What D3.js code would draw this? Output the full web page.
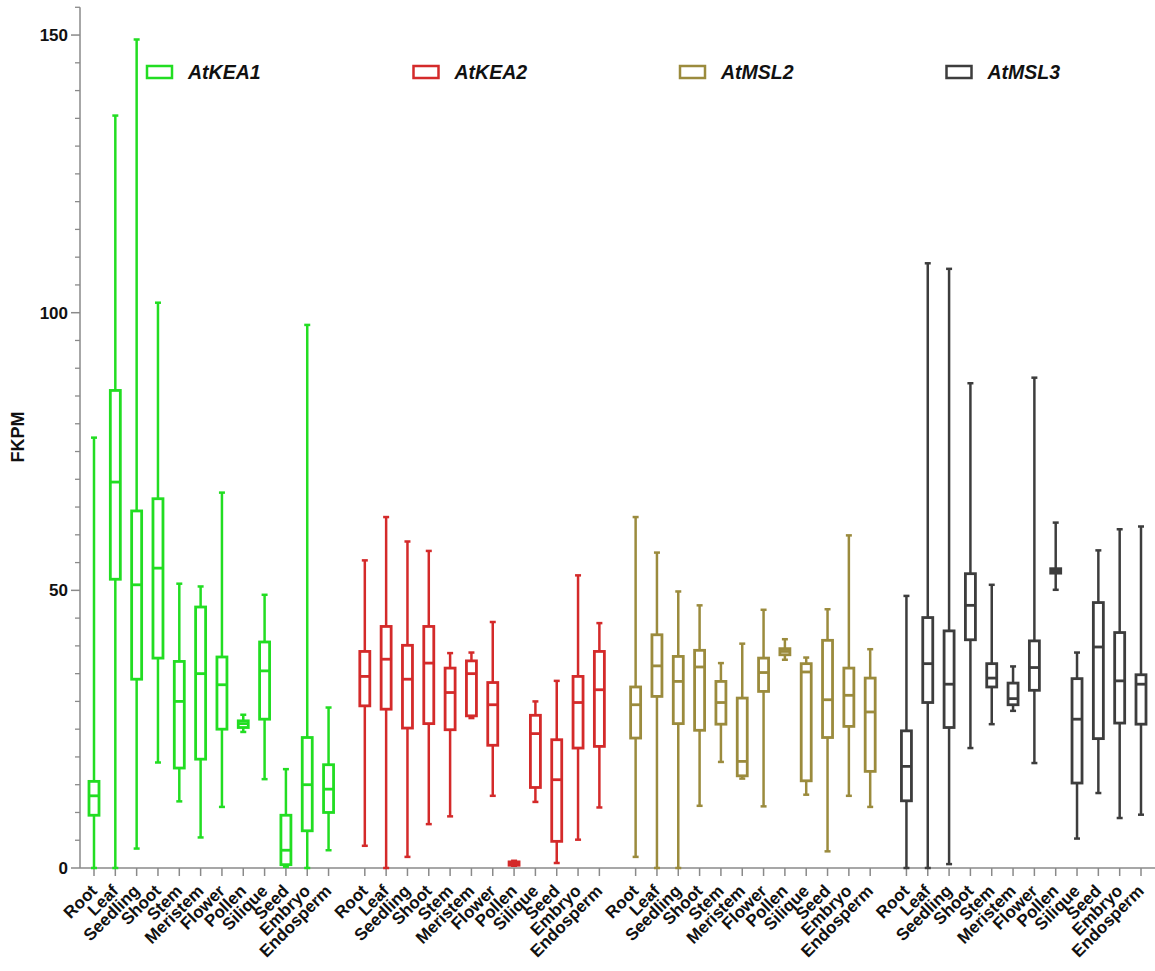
<!DOCTYPE html>
<html><head><meta charset="utf-8">
<script src="https://cdn.jsdelivr.net/npm/d3@7"></script>
<style>body{margin:0;background:#fff}svg{display:block}</style>
</head><body>
<svg id="chart" width="1155" height="971"></svg>
<script>
const tissues = ["Root","Leaf","Seedling","Shoot","Stem","Meristem","Flower","Pollen","Silique","Seed","Embryo","Endosperm"];
const genes = ["AtKEA1","AtKEA2","AtMSL2","AtMSL3"];
const colors = ["#22dd22","#d42a2a","#9b8b3d","#3d3d3d"];
const yTicks = [0,50,100,150];

// five-number summaries per gene (min, q1, median, q3, max), in tissue order
const kea1Min = [0,0,3.5,19,12,5.5,11,24.5,16,0.2,0,3.2];
const kea1Q1  = [9.5,52,34,37.8,18,19.6,25,25.3,26.8,0.6,6.7,10];
const kea1Med = [13,69.5,51,54,30,35,33,26,35.5,3.2,15,14.2];
const kea1Q3  = [15.6,86,64.3,66.5,37.2,47,38,26.5,40.7,9.5,23.5,18.6];
const kea1Max = [77.5,135.5,149.2,101.8,51.2,50.7,67.6,27.6,49.2,17.8,97.8,28.9];

const kea2Min = [4,0,2,7.9,9.3,27,13,0.4,11.9,0.9,5.1,10.9];
const kea2Q1  = [29.2,28.6,25.2,26,24.9,27.4,22.1,0.5,14.5,4.8,21.6,21.9];
const kea2Med = [34.5,37.6,34,36.9,31.6,35,29.4,0.8,24.2,15.9,29.8,32.1];
const kea2Q3  = [39,43.5,40.1,43.5,36,37.3,33.4,1.1,27.5,23.1,34.5,39];
const kea2Max = [55.4,63.2,58.8,57.1,38.7,38.8,44.3,1.3,30,33.7,52.7,44.1];

const msl2Min = [2,0,0,11.2,19.1,16.1,11.1,37.5,13.2,3,13,11];
const msl2Q1  = [23.4,30.9,26,24.8,25.9,16.6,31.8,38.4,15.7,23.5,25.5,17.4];
const msl2Med = [29.4,36.4,33.6,36.2,29.8,19.2,35.2,39,35.3,30.3,31.1,28.1];
const msl2Q3  = [32.6,42,38.1,39.2,33.6,30.6,37.8,39.5,36.8,41,36,34.2];
const msl2Max = [63.2,56.8,49.8,47.3,36.9,40.4,46.5,41.2,37.9,46.6,59.9,39.4];

const msl3Min = [0,0,0.7,21.6,25.9,28.3,18.9,50.1,5.3,13.5,9,9.6];
const msl3Q1  = [12.1,29.8,25.3,41.1,32.6,29.4,32,53.1,15.3,23.3,26.1,25.9];
const msl3Med = [18.3,36.8,33.1,47.3,34.2,30.5,36.1,53.5,26.8,39.8,33.7,33.1];
const msl3Q3  = [24.7,45.1,42.7,53,36.8,33.3,40.9,53.9,34.1,47.8,42.4,34.8];
const msl3Max = [49,108.9,107.9,87.3,51,36.3,88.3,62.2,38.8,57.2,61,61.5];

const stats = [
  [kea1Min,kea1Q1,kea1Med,kea1Q3,kea1Max],
  [kea2Min,kea2Q1,kea2Med,kea2Q3,kea2Max],
  [msl2Min,msl2Q1,msl2Med,msl2Q3,msl2Max],
  [msl3Min,msl3Q1,msl3Med,msl3Q3,msl3Max]
];

const groupStep = 12.7; // slots between group starts (incl. gap)
const boxes = [];
genes.forEach((g,gi)=>tissues.forEach((t,ti)=>{
  const s = stats[gi];
  boxes.push({gene:g, gi, tissue:t, pos: gi*groupStep+ti,
    min:s[0][ti], q1:s[1][ti], med:s[2][ti], q3:s[3][ti], max:s[4][ti]});
}));

const svg = d3.select("#chart");
const y = d3.scaleLinear().domain([0,155]).range([868, 868-155*5.553]);
const x = d3.scaleLinear().domain([0, 3*groupStep+11]).range([94, 1141]);
const axisColor = "#8a8a8a";
const font = "'Liberation Sans', Arial, sans-serif";

// Y axis
const yAxisG = svg.append("g").attr("transform","translate(80,0)");
yAxisG.append("line").attr("x1",0).attr("x2",0).attr("y1",y(155)).attr("y2",y(0))
  .attr("stroke",axisColor).attr("stroke-width",1.5);
const minor = d3.range(0,156,5).filter(v=>v%50!==0);
yAxisG.selectAll(".mt").data(minor).join("line")
  .attr("x1",-5).attr("x2",0).attr("y1",d=>y(d)).attr("y2",d=>y(d))
  .attr("stroke",axisColor).attr("stroke-width",1.3);
yAxisG.selectAll(".Mt").data(yTicks).join("line")
  .attr("x1",-9).attr("x2",0).attr("y1",d=>y(d)).attr("y2",d=>y(d))
  .attr("stroke",axisColor).attr("stroke-width",1.5);
yAxisG.selectAll("text").data(yTicks).join("text")
  .attr("x",-12).attr("y",d=>y(d)).attr("dy","0.36em")
  .attr("text-anchor","end").attr("font-family",font).attr("font-weight","bold")
  .attr("font-size",17).attr("fill","#111").text(d=>d);

svg.append("text").attr("transform","translate(24,437) rotate(-90)")
  .attr("text-anchor","middle").attr("font-family",font).attr("font-weight","bold")
  .attr("font-size",18).attr("fill","#111").text("FKPM");

// X axis
svg.append("line").attr("x1",80).attr("x2",1155).attr("y1",y(0)).attr("y2",y(0))
  .attr("stroke",axisColor).attr("stroke-width",1.5);
svg.selectAll(".xt").data(boxes).join("line")
  .attr("x1",d=>x(d.pos)).attr("x2",d=>x(d.pos)).attr("y1",y(0)).attr("y2",y(0)+8)
  .attr("stroke",axisColor).attr("stroke-width",1.5);
svg.selectAll(".xl").data(boxes).join("text")
  .attr("transform",d=>`translate(${x(d.pos)+4},${y(0)+24}) rotate(-45)`)
  .attr("text-anchor","end").attr("font-family",font).attr("font-weight","bold")
  .attr("font-size",17).attr("fill","#111").text(d=>d.tissue);

// Boxes
const bw = 10, cap = 6;
const bg = svg.append("g");
const b = bg.selectAll("g.box").data(boxes).join("g")
  .attr("stroke",d=>colors[d.gi]).attr("fill","none");
b.append("line").attr("x1",d=>x(d.pos)).attr("x2",d=>x(d.pos))
  .attr("y1",d=>y(d.max)).attr("y2",d=>y(d.q3)).attr("stroke-width",2.5);
b.append("line").attr("x1",d=>x(d.pos)).attr("x2",d=>x(d.pos))
  .attr("y1",d=>y(d.q1)).attr("y2",d=>y(d.min)).attr("stroke-width",2.5);
b.append("line").attr("x1",d=>x(d.pos)-cap/2).attr("x2",d=>x(d.pos)+cap/2)
  .attr("y1",d=>y(d.max)).attr("y2",d=>y(d.max)).attr("stroke-width",2.5);
b.append("line").attr("x1",d=>x(d.pos)-cap/2).attr("x2",d=>x(d.pos)+cap/2)
  .attr("y1",d=>y(d.min)).attr("y2",d=>y(d.min)).attr("stroke-width",2.5);
b.append("rect").attr("x",d=>x(d.pos)-bw/2).attr("width",bw)
  .attr("y",d=>y(d.q3)).attr("height",d=>Math.max(0.5,y(d.q1)-y(d.q3)))
  .attr("fill","#fff").attr("stroke-width",2.8);
b.append("line").attr("x1",d=>x(d.pos)-bw/2).attr("x2",d=>x(d.pos)+bw/2)
  .attr("y1",d=>y(d.med)).attr("y2",d=>y(d.med)).attr("stroke-width",2.8);

// Legend
const lg = svg.selectAll("g.leg").data(genes).join("g")
  .attr("transform",(d,i)=>`translate(${147+i*266.5},66)`);
lg.append("rect").attr("x",0).attr("y",0).attr("width",25).attr("height",12)
  .attr("fill","#fff").attr("stroke",(d,i)=>colors[i]).attr("stroke-width",2.5);
lg.append("text").attr("x",41).attr("y",13).attr("font-family",font)
  .attr("font-weight","bold").attr("font-style","italic").attr("font-size",19.5)
  .attr("fill","#111").text(d=>d);
</script>
</body></html>
